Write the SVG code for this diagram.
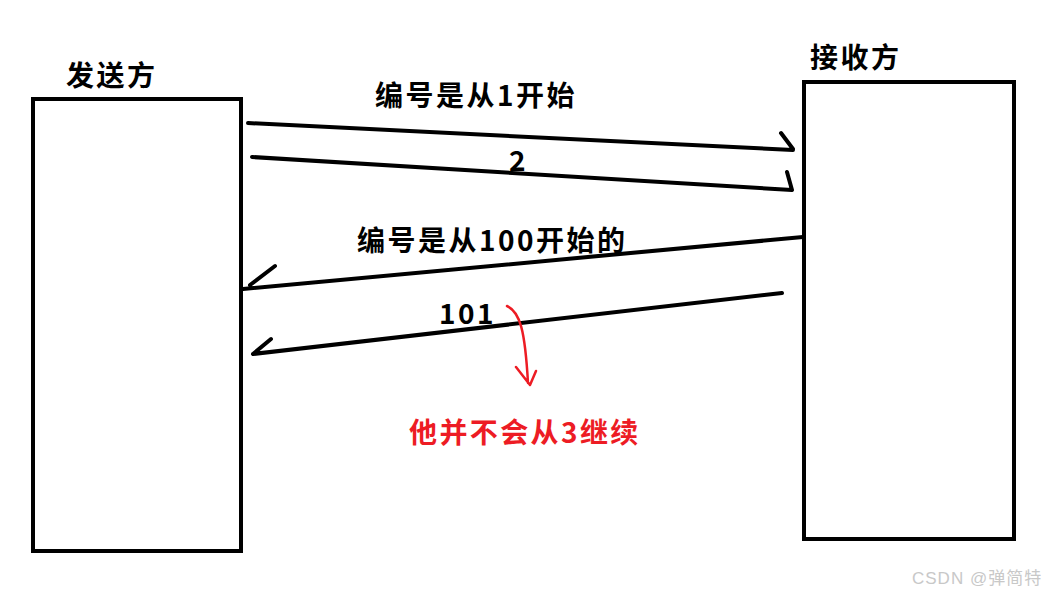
<svg xmlns="http://www.w3.org/2000/svg" width="1047" height="595" viewBox="0 0 1047 595">
<style>
.box{fill:#fff;stroke:#000;stroke-width:4}
.ln{fill:none;stroke:#000;stroke-width:4;stroke-linecap:round;stroke-linejoin:round}
.red{fill:none;stroke:#ED1C24;stroke-width:2.5;stroke-linecap:round;stroke-linejoin:round}
.t{font-family:"Noto Sans CJK SC","Noto Sans",sans-serif;font-weight:bold;font-size:28px;letter-spacing:2.5px;fill:#000}
.rt{font-family:"Noto Sans CJK SC","Noto Sans",sans-serif;font-weight:bold;font-size:28px;letter-spacing:2.4px;fill:#ED1C24}
.wm{font-family:"Liberation Sans","Noto Sans CJK SC",sans-serif;font-size:17px;letter-spacing:1px;fill:#c8c8c8}
</style>
<rect width="1047" height="595" fill="#fff"/>
<g id="sender">
<rect class="box" x="33" y="99" width="208" height="452"/>
<text class="t" x="66" y="86">发送方</text>
</g>
<g id="receiver">
<rect class="box" x="804" y="82" width="210" height="457"/>
<text class="t" x="810" y="68">接收方</text>
</g>
<g id="connectors">
<path class="ln" d="M248,123 L793,150 M781,133 L793,149"/>
<path class="ln" d="M252,157 L792,190 M787,172 L792,190"/>
<path class="ln" d="M803,237 L243,289 M275,266 L250,285"/>
<path class="ln" d="M782,293 L253,354 M271,339 L253,354"/>
<path class="red" d="M507,306 C520,312 525,330 528,383 M516,367 L530,385 L536,371"/>
</g>
<g id="labels">
<text class="t" x="375" y="106">编号是从1开始</text>
<text class="t" x="509" y="171">2</text>
<text class="t" x="357" y="251">编号是从100开始的</text>
<text class="t" x="439" y="324">101</text>
<text class="rt" x="409" y="443">他并不会从3继续</text>
</g>
<text class="wm" x="912" y="584">CSDN @弹简特</text>
</svg>
